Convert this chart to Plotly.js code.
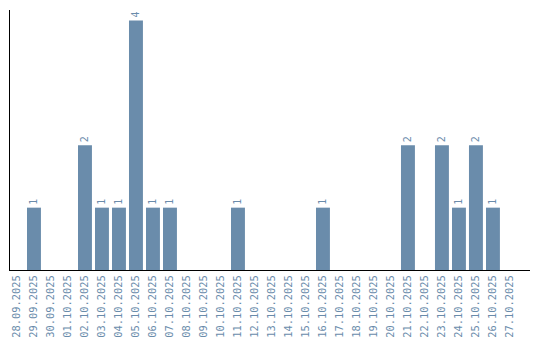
<!DOCTYPE html>
<html><head><meta charset="utf-8">
<script src="https://cdn.plot.ly/plotly-3.0.1.min.js"></script>
<style>html,body{margin:0;padding:0;background:#fff}#c{width:540px;height:340px}</style>
</head><body><div id="c"></div>
<script>
const dates = ["28.09.2025","29.09.2025","30.09.2025","01.10.2025","02.10.2025","03.10.2025","04.10.2025","05.10.2025","06.10.2025","07.10.2025","08.10.2025","09.10.2025","10.10.2025","11.10.2025","12.10.2025","13.10.2025","14.10.2025","15.10.2025","16.10.2025","17.10.2025","18.10.2025","19.10.2025","20.10.2025","21.10.2025","22.10.2025","23.10.2025","24.10.2025","25.10.2025","26.10.2025","27.10.2025"];
const counts = [0,1,0,0,2,1,1,4,1,1,0,0,0,1,0,0,0,0,1,0,0,0,0,2,0,2,1,2,1,0];
const labels = counts.map(v => v > 0 ? String(v) : "");
const col = "#6a8cab";
Plotly.newPlot("c", [{
  type: "bar", x: dates, y: counts, text: labels, textposition: "outside",
  textangle: -90, cliponaxis: false,
  textfont: {family: "DejaVu Sans Mono", size: 10, color: col},
  marker: {color: col}, hoverinfo: "none"
}], {
  width: 540, height: 340, margin: {l: 10, r: 10, t: 10, b: 70},
  paper_bgcolor: "#fff", plot_bgcolor: "#fff", bargap: 0.18, showlegend: false,
  font: {family: "DejaVu Sans Mono", size: 10, color: col},
  xaxis: {type: "category", range: [-0.41, 30.18], tickangle: -90, showgrid: false,
    showline: true, linecolor: "#000", linewidth: 1, ticks: "", zeroline: false,
    tickfont: {family: "DejaVu Sans Mono", size: 10.4, color: col}},
  yaxis: {range: [0, 4.17], showgrid: false, showticklabels: false, ticks: "",
    showline: true, linecolor: "#000", linewidth: 1, zeroline: false}
}, {displayModeBar: false, staticPlot: true});
</script></body></html>
